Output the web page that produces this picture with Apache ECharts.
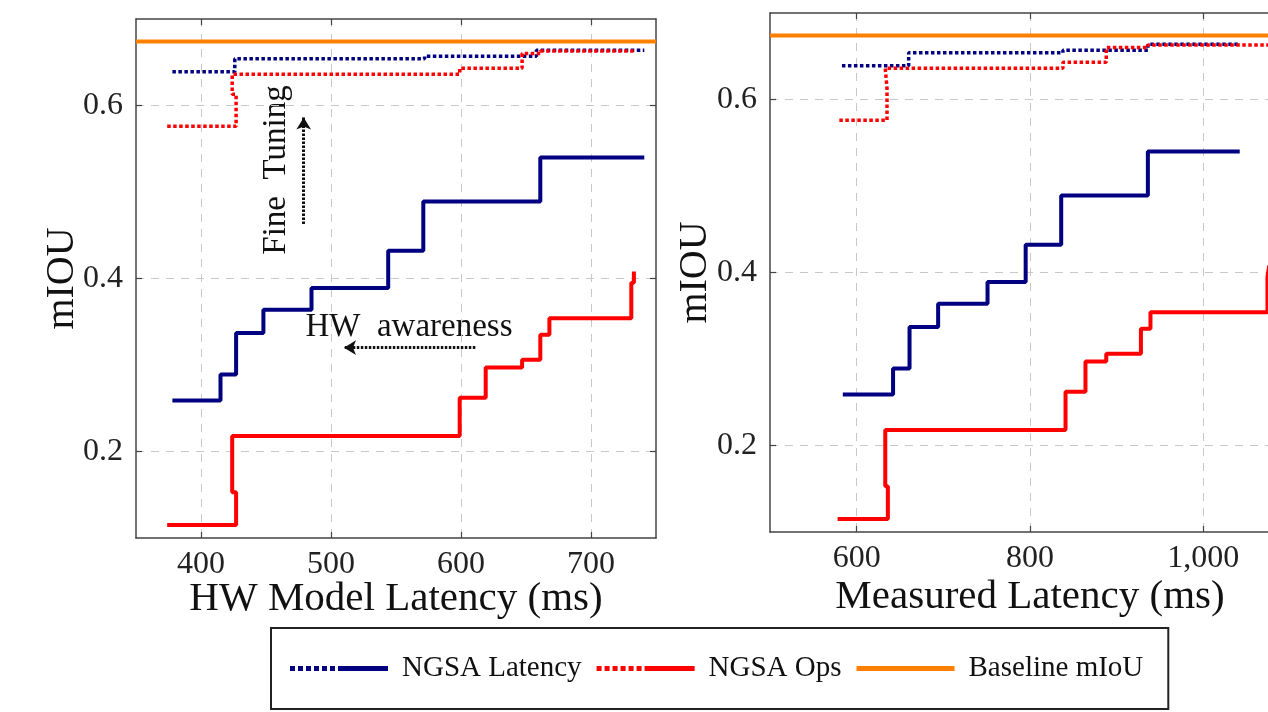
<!DOCTYPE html>
<html>
<head>
<meta charset="utf-8">
<script src="https://cdn.jsdelivr.net/npm/echarts@6/dist/echarts.min.js"></script>
<style>
  html, body { margin: 0; padding: 0; background: #fff; }
  #chart { width: 1268px; height: 712px; }
</style>
</head>
<body>
<div id="chart"></div>
<script>
// NGSA Latency (hardware aware search), x = latency, y = mIoU
const latencyHwX = [378, 415, 427, 448, 485, 544, 571, 661, 741];
const latencyMeasX = [584, 642, 661, 694, 751, 795, 836, 936, 1042];
const latencyMiou = [0.259, 0.289, 0.337, 0.364, 0.389, 0.432, 0.489, 0.540, 0.540];

// NGSA Ops
const opsHwX = [374, 427, 424, 599, 619, 647, 661, 668, 731, 733];
const opsMeasX = [578, 636, 633, 841, 864, 888, 928, 939, 1074, 1076];
const opsMiou = [0.115, 0.153, 0.218, 0.262, 0.297, 0.306, 0.335, 0.354, 0.395, 0.408];

// after fine tuning (dotted)
const latencyFtHwX = [378, 426, 572, 658, 741];
const latencyFtMeasX = [583, 660, 838, 936, 1042];
const latencyFtMiou = [0.639, 0.654, 0.657, 0.664, 0.664];

const opsFtHwX = [374, 427, 424, 599, 647, 661, 733];
const opsFtMeasX = [580, 635, 633, 838, 888, 936, 1076];
const opsFtMiou = [0.576, 0.613, 0.636, 0.643, 0.660, 0.663, 0.663];

const baselineMiou = 0.674;

// axes
const hwRange = [350, 750];
const measRange = [500, 1100];
const miouRange = [0.1, 0.7];
const hwTicks = [400, 500, 600, 700];
const measTicks = [600, 800, 1000];
const miouTicks = [0.2, 0.4, 0.6];

// annotation arrows (left panel, data units)
const fineTuneArrow = [[479, 0.463], [479, 0.586]];
const hwAwareArrow = [[611, 0.320], [510, 0.320]];

const serif = '"Liberation Serif", "Times New Roman", serif';
const NAVY = '#000080';
const RED = '#ff0000';
const ORANGE = '#ff8000';
const AXIS = '#444';

const pts = (xs, ys) => xs.map((x, i) => [x, ys[i]]);
const fmt = v => Number(v).toLocaleString('en-US');

function mainX(grid, range, ticks, name, gap) {
  return {
    type: 'value', gridIndex: grid, min: range[0], max: range[1], position: 'bottom',
    name: name, nameLocation: 'middle', nameGap: gap, nameMoveOverlap: false,
    nameTextStyle: { fontSize: 41, fontFamily: serif, color: '#111' },
    axisLine: { show: true, onZero: false, lineStyle: { color: AXIS, width: 1.5 } },
    axisTick: { show: true, inside: true, length: 6, customValues: ticks, lineStyle: { color: AXIS, width: 1.2 } },
    axisLabel: { customValues: ticks, margin: 11, fontSize: 32, fontFamily: serif, color: '#222', formatter: fmt },
    splitLine: { show: true, lineStyle: { color: '#c8c8c8', type: [8, 7], width: 1 } }
  };
}
function mirrorX(grid, range, ticks) {
  return {
    type: 'value', gridIndex: grid, min: range[0], max: range[1], position: 'top',
    axisLine: { show: true, onZero: false, lineStyle: { color: AXIS, width: 1.5 } },
    axisTick: { show: true, inside: true, length: 6, customValues: ticks, lineStyle: { color: AXIS, width: 1.2 } },
    axisLabel: { show: false }, splitLine: { show: false }
  };
}
function mainY(grid, gap) {
  return {
    type: 'value', gridIndex: grid, min: miouRange[0], max: miouRange[1], position: 'left',
    name: 'mIOU', nameLocation: 'middle', nameGap: gap, nameMoveOverlap: false,
    nameTextStyle: { fontSize: 40, fontFamily: serif, color: '#111' },
    axisLine: { show: true, onZero: false, lineStyle: { color: AXIS, width: 1.5 } },
    axisTick: { show: true, inside: true, length: 6, customValues: miouTicks, lineStyle: { color: AXIS, width: 1.2 } },
    axisLabel: { customValues: miouTicks, margin: 13, fontSize: 32, fontFamily: serif, color: '#222', formatter: v => v.toFixed(1) },
    splitLine: { show: true, lineStyle: { color: '#c8c8c8', type: [8, 7], width: 1 } }
  };
}
function mirrorY(grid) {
  return {
    type: 'value', gridIndex: grid, min: miouRange[0], max: miouRange[1], position: 'right',
    axisLine: { show: true, onZero: false, lineStyle: { color: AXIS, width: 1.5 } },
    axisTick: { show: true, inside: true, length: 6, customValues: miouTicks, lineStyle: { color: AXIS, width: 1.2 } },
    axisLabel: { show: false }, splitLine: { show: false }
  };
}

function stepLine(name, data, color, dotted, xi, yi) {
  return {
    type: 'line', name: name, xAxisIndex: xi, yAxisIndex: yi, data: data,
    step: 'end', showSymbol: false, symbol: 'none', animation: false,
    color: color,
    lineStyle: dotted
      ? { color: color, width: 3.5, type: [3.5, 2.5], cap: 'butt' }
      : { color: color, width: 4 },
    z: dotted ? 3 : 2
  };
}

function panel(xi, yi, lat, latFt, ops, opsFt, range) {
  return [
    stepLine('NGSA Latency', pts(latFt, latencyFtMiou), NAVY, true, xi, yi),
    stepLine('NGSA Latency', pts(lat, latencyMiou), NAVY, false, xi, yi),
    stepLine('NGSA Ops', pts(opsFt, opsFtMiou), RED, true, xi, yi),
    stepLine('NGSA Ops', pts(ops, opsMiou), RED, false, xi, yi),
    {
      type: 'line', name: 'Baseline mIoU', xAxisIndex: xi, yAxisIndex: yi,
      data: [[range[0], baselineMiou], [range[1], baselineMiou]],
      showSymbol: false, symbol: 'none', animation: false, color: ORANGE,
      lineStyle: { color: ORANGE, width: 4 }, z: 4
    }
  ];
}

const arrowStyle = { color: '#111', width: 3, type: [2.5, 1.5] };
const leftSeries = panel(0, 0, latencyHwX, latencyFtHwX, opsHwX, opsFtHwX, hwRange);
leftSeries[4].markLine = {
  silent: true, animation: false, symbol: ['none', 'arrow'], symbolSize: [11, 12],
  label: { show: false }, lineStyle: arrowStyle,
  data: [
    [{ coord: fineTuneArrow[0] }, { coord: fineTuneArrow[1] }],
    [{ coord: hwAwareArrow[0] }, { coord: hwAwareArrow[1] }]
  ]
};

const dotSolid = 'path://M0,0h5v5h-5z M8,0h5v5h-5z M16,0h5v5h-5z M24,0h5v5h-5z M32,0h5v5h-5z M40,0h5v5h-5z M48,0h50v5h-50z';

const chart = echarts.init(document.getElementById('chart'), null, { renderer: 'canvas' });
chart.setOption({
  backgroundColor: '#fff',
  animation: false,
  grid: [
    { left: 136, top: 19, width: 520, height: 519, outerBoundsMode: 'none', containLabel: false },
    { left: 770, top: 13, width: 520, height: 519, outerBoundsMode: 'none', containLabel: false }
  ],
  xAxis: [
    mainX(0, hwRange, hwTicks, 'HW Model Latency (ms)', 41),
    mirrorX(0, hwRange, hwTicks),
    mainX(1, measRange, measTicks, 'Measured Latency (ms)', 45),
    mirrorX(1, measRange, measTicks)
  ],
  yAxis: [mainY(0, 54), mirrorY(0), mainY(1, 55), mirrorY(1)],
  legend: {
    left: 271, top: 628,
    padding: [26, 25, 26, 19],
    itemWidth: 98, itemHeight: 5, itemGap: 15,
    borderColor: '#222', borderWidth: 2, backgroundColor: '#fff',
    selectedMode: false,
    itemStyle: { borderWidth: 0 },
    textStyle: { fontSize: 29, lineHeight: 22, fontFamily: serif, color: '#111', padding: [0, 0, 0, 9] },
    data: [
      { name: 'NGSA Latency', icon: dotSolid },
      { name: 'NGSA Ops', icon: dotSolid },
      { name: 'Baseline mIoU', icon: 'rect' }
    ]
  },
  graphic: [
    {
      type: 'text', x: 276, y: 170, rotation: Math.PI / 2,
      style: { text: 'Fine  Tuning', font: '33px ' + serif, fill: '#111', align: 'center', verticalAlign: 'middle' }
    },
    {
      type: 'text', x: 409, y: 327,
      style: { text: 'HW  awareness', font: '33px ' + serif, fill: '#111', align: 'center', verticalAlign: 'middle' }
    }
  ],
  series: leftSeries.concat(panel(2, 2, latencyMeasX, latencyFtMeasX, opsMeasX, opsFtMeasX, measRange))
});
</script>
</body>
</html>
